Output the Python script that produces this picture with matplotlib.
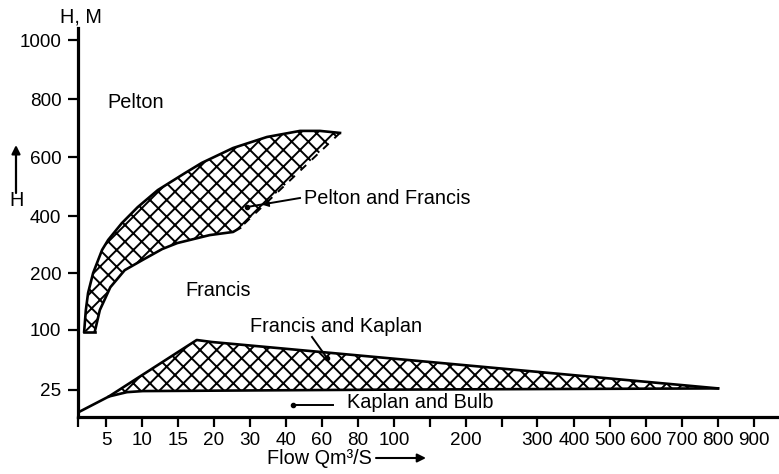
import numpy as np
import matplotlib
matplotlib.use('Agg')
import matplotlib.pyplot as plt

plt.rcParams['font.family'] = ['Liberation Sans', 'DejaVu Sans']
plt.rcParams['hatch.linewidth'] = 1.4

W, H = 779, 474

# non-linear axes of the original chart: tick value -> position
x_vals = [0, 5, 10, 15, 20, 30, 40, 60, 80, 100, 150, 200, 250, 300, 400, 500, 600, 700, 800, 900, 1000]
x_pos = [0, 28, 64, 100, 136, 172, 208, 244, 280, 316, 352, 388, 424, 459, 496, 532, 568, 604, 640, 676, 712]
y_vals = [0, 25, 100, 200, 400, 600, 800, 1000, 1100]
y_pos = [0, 27, 87, 144, 201, 260, 318, 377, 406]

x_ticks = [0, 5, 10, 15, 20, 30, 40, 60, 80, 100, 150, 200, 250, 300, 400, 500, 600, 700, 800, 900]
x_labels = ['', '5', '10', '15', '20', '30', '40', '60', '80', '100', '', '200', '',
            '300', '400', '500', '600', '700', '800', '900']
y_ticks = [25, 100, 200, 400, 600, 800, 1000]

# Pelton and Francis zone
pf_upper_q = [1.1, 1.4, 1.8, 2.7, 4.3, 5.3, 7.2, 9.4, 12.2, 16, 18.3, 25.3, 34.7, 47.8, 58.9, 70]
pf_upper_h = [98, 135, 165, 200, 281, 316, 375, 430, 488, 546, 580, 631, 669, 690, 690, 683]
pf_lower_q = [3.0, 3.9, 5.6, 7.6, 10.1, 12.8, 14.9, 19.4, 25.3, 27.2]
pf_lower_h = [98, 135, 175, 210, 246, 284, 305, 333, 344, 358]

# Francis and Kaplan zone
fk_top_q = [5.4, 17.6, 19.7, 800]
fk_top_h = [19, 87.5, 85, 27]
fk_bot_q = [0.3, 5.4, 7.9, 10.1, 100, 800]
fk_bot_h = [5, 19, 23, 24, 25.5, 27]


def fx(v):
    return np.interp(v, x_vals, x_pos)


def fx_inv(p):
    return np.interp(p, x_pos, x_vals)


def fy(v):
    return np.interp(v, y_vals, y_pos)


def fy_inv(p):
    return np.interp(p, y_pos, y_vals)


def px(x, y):
    return x / W, 1 - y / H


def arrow(p0, p1, lw=1.6, hl=5, hw=2.5):
    fig.add_artist(matplotlib.patches.FancyArrowPatch(
        px(*p0), px(*p1), transform=fig.transFigure,
        arrowstyle='-|>,head_length=%g,head_width=%g' % (hl, hw),
        color='black', lw=lw, shrinkA=0, shrinkB=0))


def pointer(p0, p1):
    fig.add_artist(plt.Line2D([p0[0] / W, p1[0] / W], [1 - p0[1] / H, 1 - p1[1] / H],
                              transform=fig.transFigure, color='black', lw=1.4))
    fig.add_artist(plt.Line2D([p1[0] / W], [1 - p1[1] / H], transform=fig.transFigure,
                              color='black', marker='o', ms=3))


fig = plt.figure(figsize=(W / 100, H / 100), dpi=100)
ax = fig.add_axes([78 / W, 1 - 417 / H, 1 - 78 / W, (417 - 28) / H])
ax.set_xscale('function', functions=(fx, fx_inv))
ax.set_yscale('function', functions=(fy, fy_inv))
ax.set_xlim(0, fx_inv(701))
ax.set_ylim(0, fy_inv(389))

# upper zone
poly_q = pf_upper_q + pf_lower_q[::-1]
poly_h = pf_upper_h + pf_lower_h[::-1]
ax.fill(poly_q, poly_h, facecolor='white', edgecolor='black', hatch='xx', linewidth=0)
ax.plot(pf_upper_q, pf_upper_h, color='black', lw=1.9)
ax.plot(pf_lower_q, pf_lower_h, color='black', lw=1.9)
ax.plot([pf_upper_q[0], pf_lower_q[0]], [pf_upper_h[0], pf_lower_h[0]], color='black', lw=1.9)
ax.plot([pf_upper_q[-1], pf_lower_q[-1]], [pf_upper_h[-1], pf_lower_h[-1]],
        color='black', lw=1.4, ls=(0, (4, 4)))

# lower zone
tri_q = fk_top_q + fk_bot_q[1:][::-1]
tri_h = fk_top_h + fk_bot_h[1:][::-1]
ax.fill(tri_q, tri_h, facecolor='white', edgecolor='black', hatch='xx', linewidth=0)
ax.plot(fk_top_q, fk_top_h, color='black', lw=1.9)
ax.plot(fk_bot_q, fk_bot_h, color='black', lw=1.9)

# axes styling
for s in ['top', 'right']:
    ax.spines[s].set_visible(False)
for s in ['left', 'bottom']:
    ax.spines[s].set_linewidth(2.3)
ax.set_xticks(x_ticks)
ax.set_xticklabels(x_labels)
ax.set_yticks(y_ticks)
ax.set_yticklabels([str(t) for t in y_ticks])
ax.minorticks_off()
ax.tick_params(axis='x', direction='out', length=7, width=1.6, labelsize=13.6, pad=3.5)
ax.tick_params(axis='y', direction='out', length=7, width=1.6, labelsize=13.6, pad=5)

# labels
fs = 14.3
fig.text(*px(81, 17), 'H, M', fontsize=fs, ha='center', va='center')
fig.text(*px(17, 201), 'H', fontsize=fs, ha='center', va='center')
arrow((16, 193), (16, 145))
fig.text(*px(107, 103), 'Pelton', fontsize=fs, ha='left', va='center')
fig.text(*px(185, 291), 'Francis', fontsize=fs, ha='left', va='center')
fig.text(*px(250, 326), 'Francis and Kaplan', fontsize=fs, ha='left', va='center')
fig.text(*px(304, 198), 'Pelton and Francis', fontsize=fs, ha='left', va='center')
fig.text(*px(347, 403), 'Kaplan and Bulb', fontsize=fs, ha='left', va='center')
fig.text(*px(267, 458), 'Flow Qm³/S', fontsize=fs, ha='left', va='center')
arrow((376, 458), (426, 458), lw=1.5)

# pointer lines
pointer((300, 198), (247, 207))
arrow((270, 203.3), (262, 204.7), lw=1.0, hl=4, hw=2)
pointer((312, 337), (327, 358))
pointer((333, 405), (293, 405))

fig.savefig('out.png', dpi=100)
